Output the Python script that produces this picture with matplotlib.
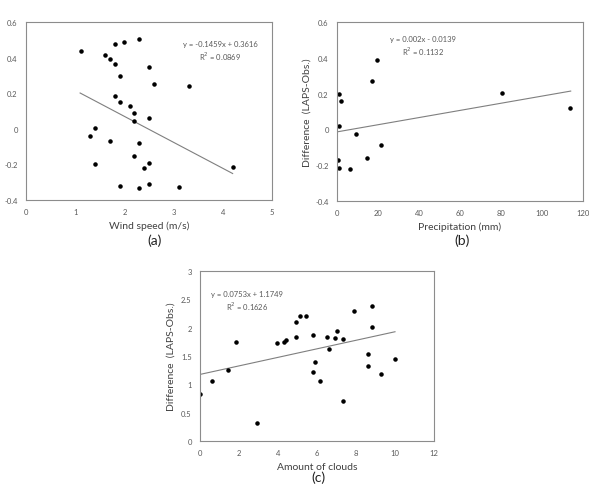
import matplotlib.pyplot as plt
import numpy as np

plt.rcParams['font.family'] = ['Lato', 'DejaVu Sans']

# (a) wind speed vs difference
wind_x = [1.11, 1.61, 1.71, 1.81, 2.0, 2.3, 1.81, 2.51, 1.91, 2.6, 3.32, 1.81, 1.91,
          2.11, 2.2, 2.51, 2.2, 1.41, 1.31, 1.71, 2.3, 2.2, 1.41, 2.51, 2.4, 4.21,
          1.91, 2.3, 2.51, 3.11]
wind_y = [0.435, 0.417, 0.39, 0.475, 0.486, 0.503, 0.362, 0.347, 0.295, 0.254, 0.242,
          0.182, 0.152, 0.13, 0.089, 0.063, 0.042, 0.006, -0.042, -0.07, -0.082,
          -0.151, -0.196, -0.19, -0.218, -0.215, -0.323, -0.333, -0.31, -0.325]

# (b) precipitation vs difference
prec_x = [0.8, 1.8, 0.8, 0.3, 0.8, 9.1, 6.5, 14.7, 17.3, 19.7, 21.7, 80.4, 113.5]
prec_y = [0.2, 0.158, 0.02, -0.172, -0.213, -0.025, -0.221, -0.159, 0.272, 0.389,
          -0.087, 0.203, 0.117]

# (c) amount of clouds vs difference
cloud_x = [0.02, 0.63, 1.44, 1.83, 2.92, 3.93, 4.31, 4.41, 4.91, 4.91, 5.13, 5.42,
           5.81, 5.81, 5.91, 6.14, 6.5, 6.62, 6.91, 7.03, 7.32, 7.32, 7.91, 8.62,
           8.62, 8.8, 8.8, 9.3, 10.0]
cloud_y = [0.827, 1.063, 1.258, 1.754, 0.319, 1.725, 1.754, 1.784, 2.097, 1.843,
           2.209, 2.209, 1.867, 1.211, 1.4, 1.063, 1.837, 1.618, 1.819, 1.949,
           1.802, 0.709, 2.292, 1.536, 1.323, 2.375, 2.014, 1.175, 1.441]

# trendline coefficients (slope, intercept, r2) and fitted range
fits = {
    'a': (-0.1459, 0.3616, 0.0869, 1.1, 4.2),
    'b': (0.002, -0.0139, 0.1132, 0.0, 114.0),
    'c': (0.0753, 1.1749, 0.1626, 0.0, 10.0),
}

W, H = 589, 485
fig = plt.figure(figsize=(W / 100, H / 100), dpi=100)

GREY_TXT = '#595959'
GREY_AX = '#8c8c8c'


def make_axes(px_left, px_top, px_right, px_bottom):
    return fig.add_axes([px_left / W, 1 - px_bottom / H,
                         (px_right - px_left) / W, (px_bottom - px_top) / H])


def style(ax, xlim, ylim, xticks, yticks, ylabels, xlabel):
    ax.set_xlim(*xlim)
    ax.set_ylim(*ylim)
    ax.set_xticks(xticks)
    ax.set_yticks(yticks)
    ax.set_yticklabels(ylabels)
    ax.tick_params(length=0, labelsize=5.5, labelcolor=GREY_TXT, pad=6)
    for s in ax.spines.values():
        s.set_color(GREY_AX)
        s.set_linewidth(0.8)
    ax.set_xlabel(xlabel, fontsize=7.5, color='#404040', labelpad=4)
    ax.set_ylabel('Difference  (LAPS-Obs.)', fontsize=7.5, color='#404040')
    ax.yaxis.set_label_coords(-0.105, 0.5)


def trend(ax, key, tx, ty):
    m, b, r2, x0, x1 = fits[key]
    xs = np.array([x0, x1])
    ax.plot(xs, m * xs + b, color='#7f7f7f', lw=0.8, zorder=1)
    sign = '+' if b >= 0 else '-'
    ax.text(tx, ty, 'y = %gx %s %g\nR$^2$ = %g' % (m, sign, abs(b), r2),
            transform=ax.transAxes, fontsize=5.5, color=GREY_TXT,
            ha='center', va='top', linespacing=1.3, multialignment='center')


# (a)
ax1 = make_axes(26, 23, 272, 201)
ax1.scatter(wind_x, wind_y, s=5, color='black', zorder=2)
trend(ax1, 'a', 0.79, 0.9)
style(ax1, (0, 5), (-0.4, 0.6), [0, 1, 2, 3, 4, 5],
      [-0.4, -0.2, 0, 0.2, 0.4, 0.6], ['-0.4', '-0.2', '0', '0.2', '0.4', '0.6'],
      'Wind speed (m/s)')
fig.text(155 / W, 1 - 241 / H, '(a)', fontsize=10, ha='center', va='center', color='#222222')

# (b)
ax2 = make_axes(337, 23, 583, 202)
ax2.scatter(prec_x, prec_y, s=5, color='black', zorder=2)
trend(ax2, 'b', 0.35, 0.93)
style(ax2, (0, 120), (-0.4, 0.6), [0, 20, 40, 60, 80, 100, 120],
      [-0.4, -0.2, 0, 0.2, 0.4, 0.6], ['-0.4', '-0.2', '0', '0.2', '0.4', '0.6'],
      'Precipitation (mm)')
fig.text(462 / W, 1 - 241 / H, '(b)', fontsize=10, ha='center', va='center', color='#222222')

# (c)
ax3 = make_axes(200, 272, 434, 442)
ax3.scatter(cloud_x, cloud_y, s=5, color='black', zorder=2)
trend(ax3, 'c', 0.2, 0.89)
style(ax3, (0, 12), (0, 3), [0, 2, 4, 6, 8, 10, 12],
      [0, 0.5, 1, 1.5, 2, 2.5, 3], ['0', '0.5', '1', '1.5', '2', '2.5', '3'],
      'Amount of clouds')
fig.text(318 / W, 1 - 478 / H, '(c)', fontsize=10, ha='center', va='center', color='#222222')

fig.savefig('out.png', dpi=100)
